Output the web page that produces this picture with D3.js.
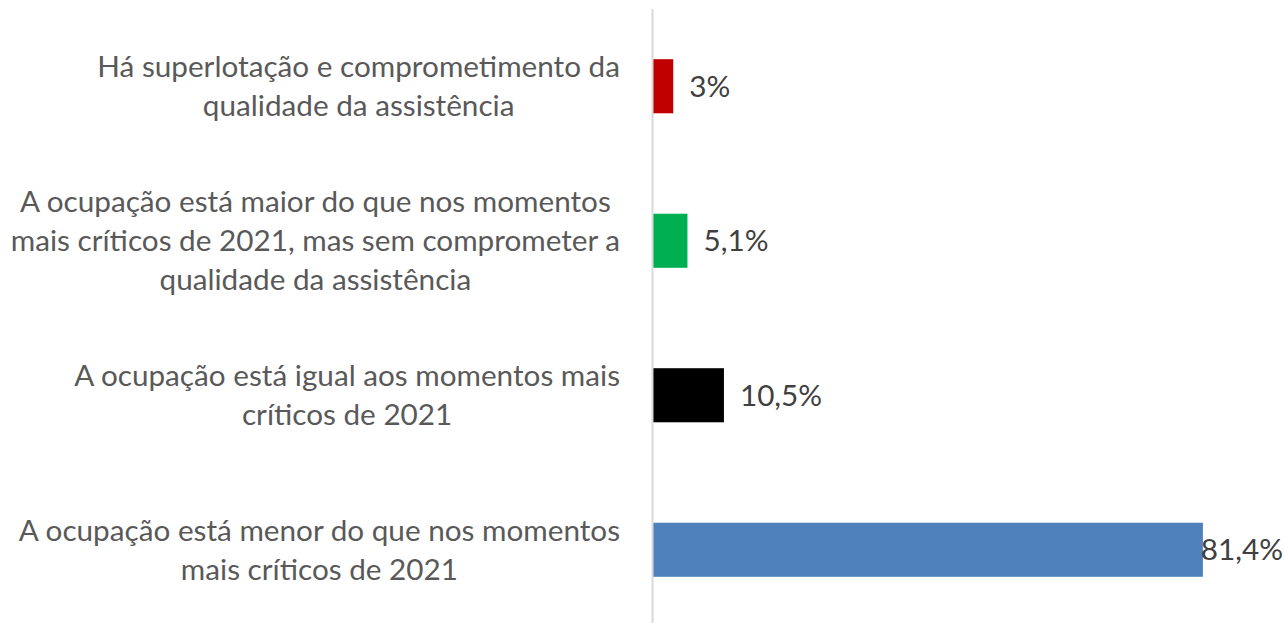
<!DOCTYPE html>
<html>
<head>
<meta charset="utf-8">
<style>
  body { margin: 0; background: #fff; }
  svg text { font-family: Lato, "Open Sans", sans-serif; }
</style>
</head>
<body>
<svg id="chart" width="1285" height="623"></svg>
<script src="https://d3js.org/d3.v7.min.js"></script>
<script>
// categories, top to bottom
const categories = [
  ["Há superlotação e comprometimento da", "qualidade da assistência"],
  ["A ocupação está maior do que nos momentos", "mais críticos de 2021, mas sem comprometer a", "qualidade da assistência"],
  ["A ocupação está igual aos momentos mais", "críticos de 2021"],
  ["A ocupação está menor do que nos momentos", "mais críticos de 2021"]
];
const values = [3, 5.1, 10.5, 81.4];
const valueLabels = ["3%", "5,1%", "10,5%", "81,4%"];
const colors = ["#c00000", "#00b050", "#000000", "#4f81bd"];

const svg = d3.select("#chart"),
  width = +svg.attr("width"),
  height = +svg.attr("height");

const axisX = 653;
const fontSize = 29.7;
const lineH = 39;

const x = d3.scaleLinear().domain([0, 90]).range([axisX, axisX + 608]);
const y = d3.scaleBand().domain(d3.range(categories.length)).range([9, 627]).paddingInner(0.65).paddingOuter(0.325);

// bars
svg.append("g")
  .selectAll("rect")
  .data(values)
  .join("rect")
  .attr("x", x(0))
  .attr("y", (d, i) => y(i))
  .attr("width", d => x(d) - x(0))
  .attr("height", y.bandwidth())
  .attr("fill", (d, i) => colors[i]);

// axis line
svg.append("line")
  .attr("x1", axisX - 0.5).attr("x2", axisX - 0.5)
  .attr("y1", 9).attr("y2", height)
  .attr("stroke", "#d9d9d9").attr("stroke-width", 2);

// value labels
const vl = svg.append("g")
  .selectAll("text")
  .data(values)
  .join("text")
  .attr("y", (d, i) => y(i) + y.bandwidth() / 2)
  .attr("dy", "0.35em")
  .attr("fill", "#404040")
  .attr("font-size", fontSize)
  .text((d, i) => valueLabels[i]);
vl.each(function(d) {
  const w = this.getComputedTextLength();
  d3.select(this).attr("x", Math.min(x(d) + 16, width - 2 - w));
});

// category labels: block right aligned at 620, lines centered within block
const labelRight = 620;
categories.forEach((lines, i) => {
  const g = svg.append("g");
  const cy = y(i) + y.bandwidth() / 2;
  const t = g.selectAll("text")
    .data(lines)
    .join("text")
    .attr("font-size", fontSize)
    .attr("fill", "#595959")
    .attr("text-anchor", "middle")
    .attr("y", (d, j) => cy + (j - (lines.length - 1) / 2) * lineH)
    .attr("dy", "0.35em")
    .text(d => d);
  let maxW = 0;
  t.each(function() { maxW = Math.max(maxW, this.getComputedTextLength()); });
  t.attr("x", labelRight - maxW / 2);
});
</script>
</body>
</html>
